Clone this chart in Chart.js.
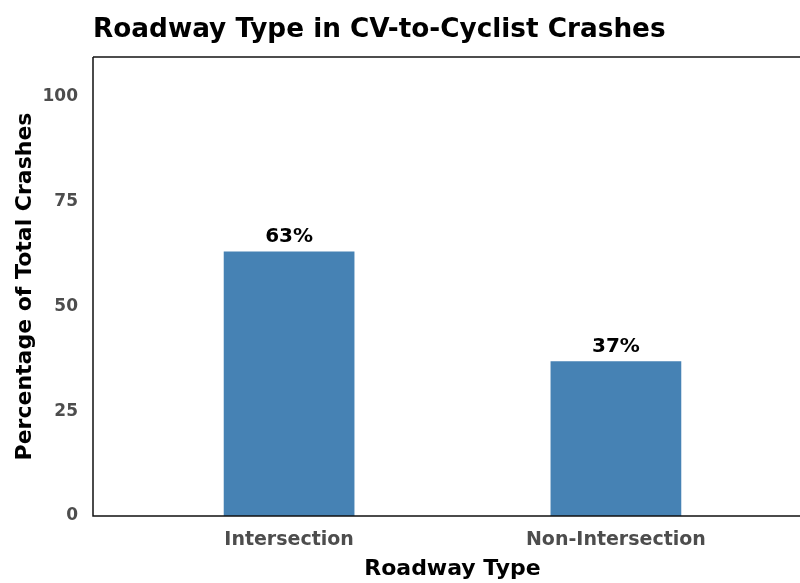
<!DOCTYPE html>
<html>
<head>
<meta charset="utf-8">
<script src="https://cdn.jsdelivr.net/npm/chart.js@4.4.1/dist/chart.umd.min.js"></script>
<style>
  html, body { margin: 0; padding: 0; background: #fff; overflow: hidden; }
  #wrap { width: 820px; height: 583px; }
</style>
</head>
<body>
<div id="wrap"><canvas id="roadwayChart" width="820" height="583"></canvas></div>
<script>
// данные с картинки
const categories = ['Intersection', 'Non-Intersection'];
const percentValues = [63.1, 36.9];
const yTicks = [0, 25, 50, 75, 100];

const chartTitle = 'Roadway Type in CV-to-Cyclist Crashes';
const FONT = "'DejaVu Sans', sans-serif";

// подписи над столбиками
const barLabels = {
    id: 'barLabels',
    afterDatasetsDraw(chart) {
        const ctx = chart.ctx;
        const meta = chart.getDatasetMeta(0);
        ctx.save();
        ctx.font = `bold 20px ${FONT}`;
        ctx.fillStyle = '#000';
        ctx.textAlign = 'center';
        ctx.textBaseline = 'alphabetic';
        meta.data.forEach((bar, i) => {
            ctx.fillText(Math.round(percentValues[i]) + '%', bar.x, bar.y - 9);
        });
        ctx.restore();
    }
};

// рамка панели и заголовок
const panelFrame = {
    id: 'panelFrame',
    afterDraw(chart) {
        const { ctx, chartArea } = chart;
        ctx.save();
        ctx.strokeStyle = '#4d4d4d';
        ctx.lineWidth = 2;
        ctx.beginPath();
        ctx.moveTo(chartArea.left, chartArea.top);
        ctx.lineTo(chartArea.right + 5, chartArea.top);
        ctx.stroke();

        ctx.strokeStyle = '#111';
        ctx.lineWidth = 1.5;
        ctx.beginPath();
        ctx.moveTo(chartArea.left, chartArea.top);
        ctx.lineTo(chartArea.left, chartArea.bottom);
        ctx.lineTo(chartArea.right + 5, chartArea.bottom);
        ctx.stroke();

        ctx.font = `bold 26.3px ${FONT}`;
        ctx.fillStyle = '#000';
        ctx.textAlign = 'left';
        ctx.textBaseline = 'alphabetic';
        ctx.fillText(chartTitle, 93, 37);
        ctx.restore();
    }
};

const ctx = document.getElementById('roadwayChart').getContext('2d');

new Chart(ctx, {
    type: 'bar',
    data: {
        datasets: [{
            label: 'Percentage',
            data: categories.map((c, i) => ({ x: i + 1, y: percentValues[i] })),
            backgroundColor: '#4682B4',
            borderWidth: 0,
            barPercentage: 0.4,
            categoryPercentage: 1
        }]
    },
    options: {
        responsive: false,
        animation: false,
        layout: { padding: { top: 57, right: 8, left: 0, bottom: 0 } },
        plugins: {
            legend: { display: false },
            tooltip: { enabled: false },
            title: { display: false }
        },
        scales: {
            x: {
                type: 'linear',
                min: 0.4,
                max: 2.6,
                offset: false,
                grid: { display: false, drawTicks: false },
                border: { display: false },
                afterBuildTicks: axis => {
                    axis.ticks = categories.map((c, i) => ({ value: i + 1 }));
                },
                afterFit: axis => { axis.height = 67; },
                ticks: {
                    autoSkip: false,
                    maxRotation: 0,
                    padding: 13,
                    color: '#4d4d4d',
                    font: { family: FONT, size: 19, weight: 'bold' },
                    callback: value => categories[value - 1] || ''
                },
                title: {
                    display: true,
                    text: 'Roadway Type',
                    color: '#000',
                    font: { family: FONT, size: 22, weight: 'bold' },
                    padding: { top: 0, bottom: 1 }
                }
            },
            y: {
                min: 0,
                max: 109.5,
                grid: { display: false, drawTicks: false },
                border: { display: false },
                afterBuildTicks: axis => {
                    axis.ticks = yTicks.map(v => ({ value: v }));
                },
                afterFit: axis => { axis.width = 93; },
                ticks: {
                    padding: 15,
                    color: '#4d4d4d',
                    font: { family: FONT, size: 17, weight: 'bold' }
                },
                title: {
                    display: true,
                    text: 'Percentage of Total Crashes',
                    color: '#000',
                    font: { family: FONT, size: 22, weight: 'bold' },
                    padding: { top: 12, bottom: 0 }
                }
            }
        }
    },
    plugins: [barLabels, panelFrame]
});
</script>
</body>
</html>
